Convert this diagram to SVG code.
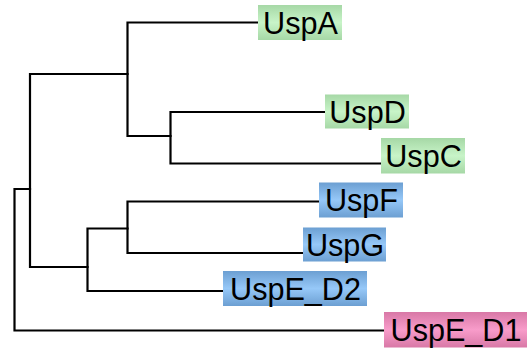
<svg xmlns="http://www.w3.org/2000/svg" width="527" height="349" viewBox="0 0 527 349">
  <defs>
    <linearGradient id="gGreen" x1="0" y1="0" x2="0" y2="1">
      <stop offset="0" stop-color="#a6d8a6"/>
      <stop offset="0.5" stop-color="#c8f4c8"/>
      <stop offset="1" stop-color="#a6d8a6"/>
    </linearGradient>
    <linearGradient id="gBlue" x1="0" y1="0" x2="0" y2="1">
      <stop offset="0" stop-color="#6c9fd2"/>
      <stop offset="0.5" stop-color="#96c8f8"/>
      <stop offset="1" stop-color="#6c9fd2"/>
    </linearGradient>
    <linearGradient id="gPink" x1="0" y1="0" x2="0" y2="1">
      <stop offset="0" stop-color="#d878a6"/>
      <stop offset="0.5" stop-color="#f89cca"/>
      <stop offset="1" stop-color="#d878a6"/>
    </linearGradient>
  </defs>
  <style>
    .edge { fill: none; stroke: #000; stroke-width: 2.2; stroke-linecap: square; }
    .lbl { font-family: "Liberation Sans", Arial, sans-serif; font-size: 30.6px; fill: #000; text-anchor: middle; }
    .green { fill: url(#gGreen); }
    .blue { fill: url(#gBlue); }
    .pink { fill: url(#gPink); }
  </style>
  <rect width="527" height="349" fill="#fff"/>

  <!-- tree branches -->
  <g id="edges">
    <!-- root -->
    <path class="edge" d="M30 189 H14.5 V330.5 H384"/>
    <!-- main ingroup -->
    <path class="edge" d="M127.5 74 H30 V267 H87.5"/>
    <!-- UspA / (UspD, UspC) -->
    <path class="edge" d="M258 22.5 H127.5 V136 H170.5"/>
    <path class="edge" d="M325 112 H170.5 V163.5 H381"/>
    <!-- (UspF, UspG) / UspE_D2 -->
    <path class="edge" d="M127.5 228.5 H87.5 V291 H223"/>
    <path class="edge" d="M319 201.5 H127.5 V253 H303"/>
  </g>

  <g id="UspA">
    <rect class="green" x="258" y="5" width="84" height="35"/>
    <text class="lbl" x="300.5" y="33.5">UspA</text>
  </g>
  <g id="UspD">
    <rect class="green" x="325" y="94.5" width="84" height="34"/>
    <text class="lbl" x="367.5" y="122.5">UspD</text>
  </g>
  <g id="UspC">
    <rect class="green" x="381" y="138" width="84" height="35.5"/>
    <text class="lbl" x="423.5" y="166.5">UspC</text>
  </g>
  <g id="UspF">
    <rect class="blue" x="319" y="182.5" width="84" height="35"/>
    <text class="lbl" x="361.5" y="211">UspF</text>
  </g>
  <g id="UspG">
    <rect class="blue" x="303" y="227.5" width="83" height="34"/>
    <text class="lbl" x="345" y="255.5">UspG</text>
  </g>
  <g id="UspE_D2">
    <rect class="blue" x="223" y="271" width="144" height="35"/>
    <text class="lbl" x="295.5" y="299.5">UspE_D2</text>
  </g>
  <g id="UspE_D1">
    <rect class="pink" x="384" y="312" width="143" height="35.5"/>
    <text class="lbl" x="456" y="340.5">UspE_D1</text>
  </g>
</svg>
